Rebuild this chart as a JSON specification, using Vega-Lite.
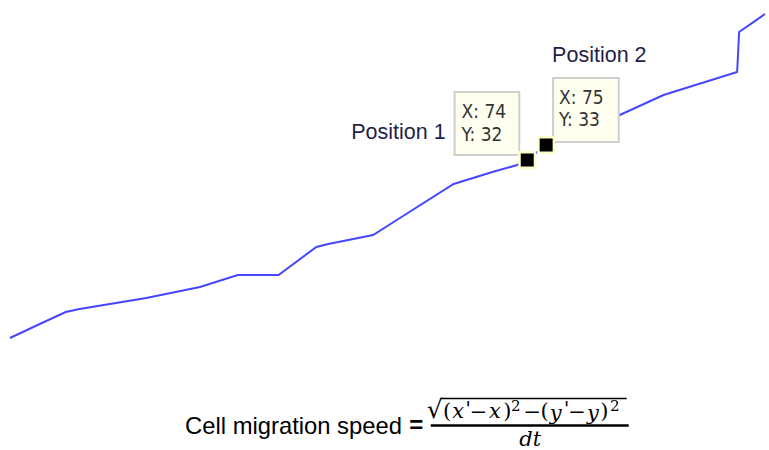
{
  "$schema": "https://vega.github.io/schema/vega-lite/v6.json",
  "width": 769,
  "height": 450,
  "autosize": {"type": "fit", "contains": "padding"},
  "padding": 0,
  "background": "white",
  "config": {"view": {"stroke": null}},
  "encoding": {
    "x": {"field": "x", "type": "quantitative", "scale": {"domain": [0, 769], "nice": false, "zero": false}, "axis": null},
    "y": {"field": "y", "type": "quantitative", "scale": {"domain": [0, 450], "nice": false, "zero": false, "reverse": true}, "axis": null}
  },
  "layer": [
    {
      "data": {"values": [
        {"x": 10, "y": 338}, {"x": 40, "y": 324}, {"x": 66, "y": 312}, {"x": 80, "y": 309},
        {"x": 147, "y": 298}, {"x": 201, "y": 287}, {"x": 239, "y": 275}, {"x": 280, "y": 275},
        {"x": 318, "y": 247}, {"x": 330, "y": 244}, {"x": 375, "y": 235}, {"x": 402, "y": 218},
        {"x": 456, "y": 184}, {"x": 495, "y": 172}, {"x": 520, "y": 165}, {"x": 530, "y": 160},
        {"x": 549, "y": 145}, {"x": 559, "y": 142}, {"x": 623, "y": 115}, {"x": 667, "y": 95},
        {"x": 741, "y": 72}, {"x": 743, "y": 32}, {"x": 769, "y": 14}
      ]},
      "mark": {"type": "line", "color": "#4646ff", "strokeWidth": 2, "interpolate": "linear"},
      "encoding": {"order": {"field": "x", "type": "quantitative"}}
    },
    {
      "data": {"values": [
        {"x": 457, "x2": 522, "y": 92, "y2": 155},
        {"x": 556, "x2": 622, "y": 78, "y2": 142}
      ]},
      "mark": {"type": "rect", "fill": "#fffff0", "stroke": "#cfcfcf", "strokeWidth": 2},
      "encoding": {"x2": {"field": "x2"}, "y2": {"field": "y2"}}
    },
    {
      "data": {"values": [
        {"x": 464, "y": 112, "t": "X: 74"},
        {"x": 464, "y": 135, "t": "Y: 32"},
        {"x": 562, "y": 98, "t": "X: 75"},
        {"x": 562, "y": 120, "t": "Y: 33"}
      ]},
      "mark": {"type": "text", "align": "left", "baseline": "middle", "font": "DejaVu Sans Condensed, DejaVu Sans", "fontSize": 19, "color": "#333333"},
      "encoding": {"text": {"field": "t"}}
    },
    {
      "data": {"values": [{"x": 530, "y": 160}, {"x": 549, "y": 145}]},
      "mark": {"type": "point", "shape": "square", "filled": true, "color": "#ffffcc", "size": 324, "opacity": 1}
    },
    {
      "data": {"values": [{"x": 530, "y": 160}, {"x": 549, "y": 145}]},
      "mark": {"type": "point", "shape": "square", "filled": true, "color": "#000000", "size": 169, "opacity": 1}
    },
    {
      "data": {"values": [{"x": 448, "y": 133, "t": "Position 1"}]},
      "mark": {"type": "text", "align": "right", "baseline": "middle", "font": "Liberation Sans", "fontSize": 21.5, "color": "#1f1f4a"},
      "encoding": {"text": {"field": "t"}}
    },
    {
      "data": {"values": [{"x": 555, "y": 55.5, "t": "Position 2"}]},
      "mark": {"type": "text", "align": "left", "baseline": "middle", "font": "Liberation Sans", "fontSize": 21.5, "color": "#1f1f4a"},
      "encoding": {"text": {"field": "t"}}
    },
    {
      "data": {"values": [{"x": 186, "y": 427, "t": "Cell migration speed"}]},
      "mark": {"type": "text", "align": "left", "baseline": "middle", "font": "Liberation Sans", "fontSize": 23.8, "color": "#000000"},
      "encoding": {"text": {"field": "t"}}
    },
    {
      "data": {"values": [{"x": 418.5, "y": 426, "t": "="}]},
      "mark": {"type": "text", "align": "center", "baseline": "middle", "font": "Liberation Sans", "fontWeight": "bold", "fontSize": 24, "color": "#000000"},
      "encoding": {"text": {"field": "t"}}
    },
    {
      "data": {"values": [{"x": 437, "y": 410, "t": "√"}]},
      "mark": {"type": "text", "align": "center", "baseline": "middle", "font": "DejaVu Serif", "fontSize": 25, "color": "#000000"},
      "encoding": {"text": {"field": "t"}}
    },
    {
      "data": {"values": [
        {"x": 449.5, "y": 412, "t": "("},
        {"x": 510, "y": 412, "t": ")"},
        {"x": 547.5, "y": 412, "t": "("},
        {"x": 607.5, "y": 412, "t": ")"},
        {"x": 481, "y": 413, "t": "−"},
        {"x": 535, "y": 413, "t": "−"},
        {"x": 580, "y": 413, "t": "−"}
      ]},
      "mark": {"type": "text", "align": "center", "baseline": "middle", "font": "DejaVu Serif", "fontSize": 21, "color": "#000000"},
      "encoding": {"text": {"field": "t"}}
    },
    {
      "data": {"values": [
        {"x": 460.5, "y": 412, "t": "x"},
        {"x": 497.5, "y": 412, "t": "x"},
        {"x": 558.5, "y": 414, "t": "y"},
        {"x": 596, "y": 414, "t": "y"}
      ]},
      "mark": {"type": "text", "align": "center", "baseline": "middle", "font": "DejaVu Serif", "fontStyle": "italic", "fontSize": 21, "color": "#000000"},
      "encoding": {"text": {"field": "t"}}
    },
    {
      "data": {"values": [
        {"x": 470.5, "y": 409, "t": "'"},
        {"x": 569.5, "y": 409, "t": "'"}
      ]},
      "mark": {"type": "text", "align": "center", "baseline": "middle", "font": "DejaVu Sans", "fontSize": 19, "color": "#000000"},
      "encoding": {"text": {"field": "t"}}
    },
    {
      "data": {"values": [
        {"x": 518.5, "y": 406, "t": "2"},
        {"x": 618, "y": 406, "t": "2"}
      ]},
      "mark": {"type": "text", "align": "center", "baseline": "middle", "font": "DejaVu Serif", "fontSize": 15, "color": "#000000"},
      "encoding": {"text": {"field": "t"}}
    },
    {
      "data": {"values": [{"x": 533, "y": 440, "t": "dt"}]},
      "mark": {"type": "text", "align": "center", "baseline": "middle", "font": "DejaVu Serif", "fontStyle": "italic", "fontSize": 21, "color": "#000000"},
      "encoding": {"text": {"field": "t"}}
    },
    {
      "data": {"values": [{"x": 433, "x2": 632, "y": 425.5}]},
      "mark": {"type": "rule", "color": "#000000", "strokeWidth": 2.5},
      "encoding": {"x2": {"field": "x2"}}
    },
    {
      "data": {"values": [{"x": 443, "x2": 630, "y": 398.5}]},
      "mark": {"type": "rule", "color": "#000000", "strokeWidth": 1.5},
      "encoding": {"x2": {"field": "x2"}}
    }
  ]
}
